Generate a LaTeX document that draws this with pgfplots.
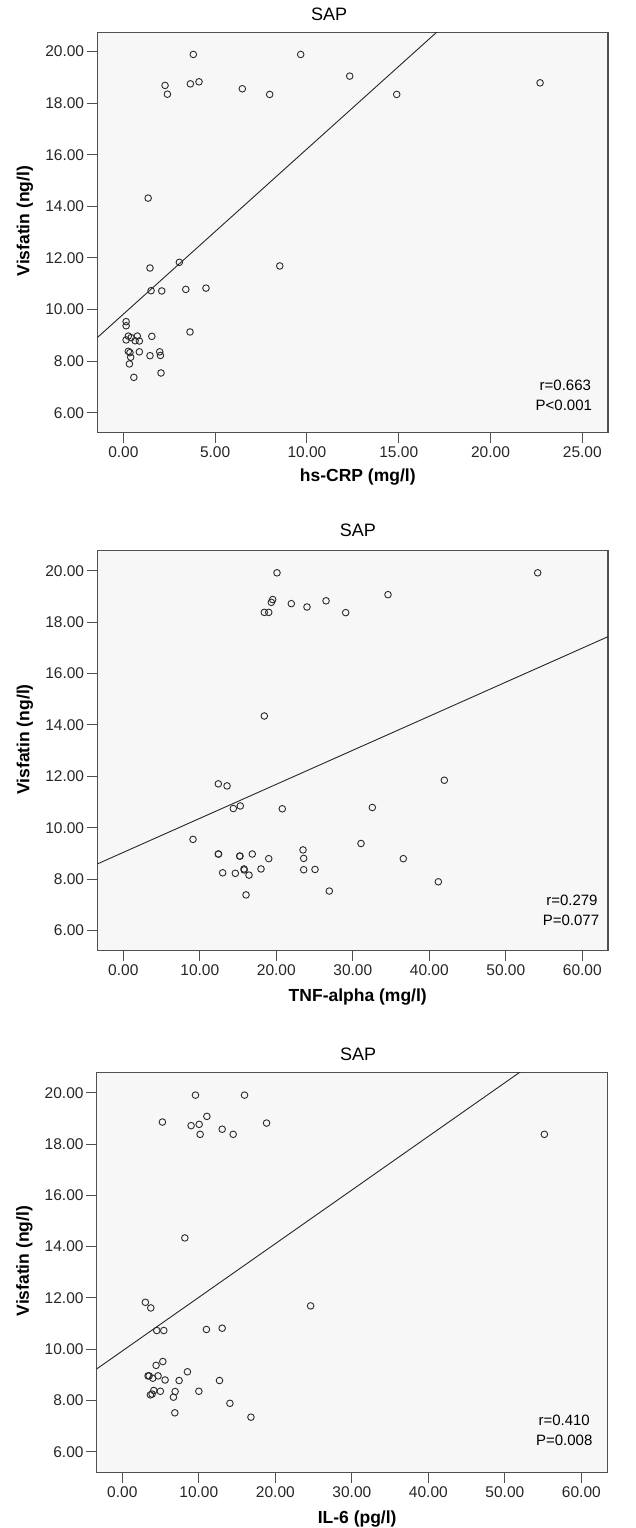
\documentclass[border=0pt]{standalone}
\usepackage{pgfplots}
\pgfplotsset{compat=1.18}
\usepackage{fontspec}
\setmainfont{Liberation Sans}

\definecolor{panelBg}{HTML}{F7F7F7}
\definecolor{frameGray}{HTML}{505050}
\definecolor{dotGray}{HTML}{2A2A2A}

\pgfplotsset{
  sapplot/.style={
    scale only axis,
    width=510.7pt, height=400pt,
    axis background/.style={fill=panelBg},
    axis line style={frameGray, line width=1.1pt},
    tick pos=left,
    tick align=outside,
    major tick length=10.5pt,
    tick style={frameGray, line width=1pt},
    minor tick num=0,
    ytick={6,8,10,12,14,16,18,20},
    /pgf/number format/.cd, fixed, fixed zerofill, precision=2, 1000 sep={}, assume math mode=true,
    /pgfplots/.cd,
    tick label style={font=\fontsize{15.5}{17}\selectfont, color=black!85},
    yticklabel style={inner sep=2.5pt},
    ylabel={\textbf{Visfatin (ng/l)}},
    ylabel style={at={(axis description cs:-0.1416,0.528)}, anchor=center, font=\fontsize{17.5}{19}\selectfont},
    xlabel style={anchor=center, font=\fontsize{17.5}{19}\selectfont},
    title style={anchor=center, font=\fontsize{18}{20}\selectfont},
    clip=true,
  },
  dots/.style={only marks, mark=o, mark size=3.3pt, mark options={draw=dotGray, line width=0.9pt}},
  fitline/.style={no marks, draw=black!85, line width=0.9pt},
}

\newcommand{\stat}{\fontsize{15}{17}\selectfont}

\begin{document}
\begin{tikzpicture}
  \path[use as bounding box] (0,0) rectangle (635pt,1528pt);

  % hs-CRP
  \begin{axis}[sapplot, at={(97.3pt,1095.7pt)},
      xmin=-1.42, xmax=26.4, ymin=5.24, ymax=20.75,
      xtick={0,5,10,15,20,25},
      xlabel={\textbf{hs-CRP (mg/l)}},
      xlabel style={at={(axis description cs:0.510,-0.1125)}},
      title={SAP},
      title style={at={(axis description cs:0.454,1.031)}},
  ]
    \addplot[fitline] coordinates {(-1.5,8.86) (17.5,21.03)};
    \addplot[dots] coordinates {
      (3.81,19.89) (9.66,19.89) (2.27,18.69) (2.40,18.35) (3.65,18.75) (4.12,18.83)
      (6.48,18.56) (7.97,18.34) (12.33,19.05) (14.89,18.34) (22.70,18.79) (1.35,14.32)
      (1.45,11.61) (3.05,11.83) (8.52,11.69) (1.51,10.73) (2.09,10.72) (3.40,10.78)
      (4.50,10.83) (0.15,9.53) (0.15,9.37) (3.63,9.13) (0.27,8.97) (0.15,8.82)
      (0.42,8.91) (0.76,8.97) (0.64,8.79) (0.87,8.78) (1.55,8.96) (0.27,8.38)
      (0.36,8.33) (0.87,8.36) (1.98,8.36) (2.02,8.22) (1.45,8.21) (0.40,8.15)
      (0.33,7.89) (2.05,7.54) (0.57,7.37)
    };
    \node[anchor=east, inner sep=0pt, font=\stat] at (axis description cs:0.967,0.118) {r=0.663};
    \node[anchor=east, inner sep=0pt, font=\stat] at (axis description cs:0.969,0.068) {P<0.001};
  \end{axis}

  % TNF-alpha
  \begin{axis}[sapplot, at={(97.3pt,577.3pt)},
      xmin=-3.40, xmax=63.36, ymin=5.22, ymax=20.78,
      xtick={0,10,20,30,40,50,60},
      xlabel={\textbf{TNF-alpha (mg/l)}},
      xlabel style={at={(axis description cs:0.510,-0.115)}},
      title={SAP},
      title style={at={(axis description cs:0.510,1.036)}},
  ]
    \addplot[fitline] coordinates {(-3.5,8.58) (64,17.52)};
    \addplot[dots] coordinates {
      (20.09,19.92) (54.17,19.92) (19.53,18.88) (19.35,18.77) (21.96,18.72) (24.01,18.59)
      (26.50,18.83) (29.07,18.37) (34.60,19.07) (18.43,18.38) (19.01,18.38) (18.43,14.35)
      (12.42,11.71) (13.56,11.63) (41.96,11.85) (14.38,10.75) (15.29,10.85) (20.78,10.74)
      (32.55,10.79) (9.11,9.55) (31.07,9.39) (23.49,9.14) (12.42,8.98) (12.45,8.98)
      (15.21,8.90) (15.25,8.90) (16.86,8.98) (19.01,8.80) (23.58,8.81) (36.60,8.80)
      (15.78,8.40) (15.80,8.36) (18.00,8.40) (23.58,8.37) (25.06,8.38) (12.99,8.25)
      (14.64,8.23) (16.43,8.16) (41.18,7.90) (26.93,7.54) (16.04,7.39)
    };
    \node[anchor=east, inner sep=0pt, font=\stat] at (axis description cs:0.980,0.125) {r=0.279};
    \node[anchor=east, inner sep=0pt, font=\stat] at (axis description cs:0.983,0.077) {P=0.077};
  \end{axis}

  % IL-6
  \begin{axis}[sapplot, at={(96.7pt,55.7pt)},
      xmin=-3.35, xmax=63.4, ymin=5.20, ymax=20.80,
      xtick={0,10,20,30,40,50,60},
      xlabel={\textbf{IL-6 (pg/l)}},
      xlabel style={at={(axis description cs:0.510,-0.117)}},
      title={SAP},
      title style={at={(axis description cs:0.512,1.029)}},
  ]
    \addplot[fitline] coordinates {(-3.5,9.20) (55,21.44)};
    \addplot[dots] coordinates {
      (9.56,19.91) (15.97,19.91) (5.24,18.86) (8.99,18.72) (10.04,18.77) (11.05,19.08)
      (10.17,18.38) (13.05,18.58) (14.49,18.38) (18.85,18.82) (55.16,18.38) (8.17,14.34)
      (3.01,11.83) (3.72,11.61) (24.61,11.69) (4.50,10.73) (5.42,10.73) (10.99,10.77)
      (13.05,10.82) (5.29,9.52) (4.41,9.37) (8.51,9.12) (3.36,8.96) (3.50,8.96)
      (3.98,8.87) (4.67,8.96) (5.59,8.80) (7.42,8.78) (12.70,8.78) (4.11,8.39)
      (4.97,8.36) (6.90,8.35) (10.00,8.36) (3.67,8.22) (3.89,8.25) (6.68,8.13)
      (14.06,7.89) (6.86,7.52) (16.81,7.35)
    };
    \node[anchor=east, inner sep=0pt, font=\stat] at (axis description cs:0.966,0.129) {r=0.410};
    \node[anchor=east, inner sep=0pt, font=\stat] at (axis description cs:0.971,0.081) {P=0.008};
  \end{axis}
\end{tikzpicture}
\end{document}
